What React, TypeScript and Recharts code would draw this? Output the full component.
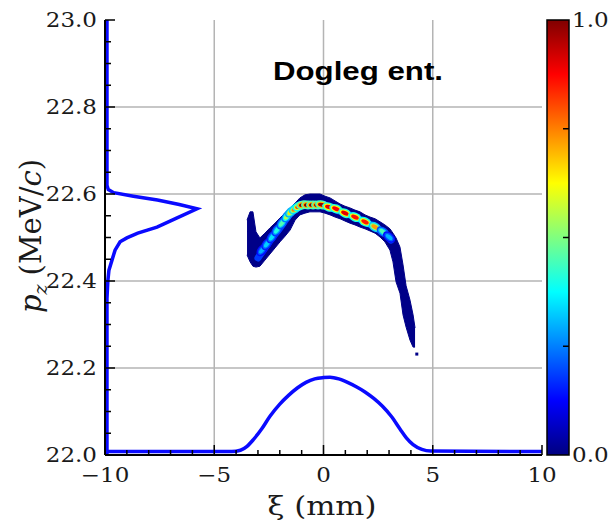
import React from "react";
import { ComposedChart, Area, Line, Scatter, XAxis, YAxis, CartesianGrid } from "recharts";

// axis ticks
const xMinorTicks = [-10, -9, -8, -7, -6, -5, -4, -3, -2, -1, 0, 1, 2, 3, 4, 5, 6, 7, 8, 9, 10];
const xMajorTicks = [-10, -5, 0, 5, 10];
const xTickLabels = ["\u221210", "\u22125", "0", "5", "10"];
const yMinorTicks = [
  22.0, 22.05, 22.1, 22.15, 22.2, 22.25, 22.3, 22.35, 22.4, 22.45, 22.5,
  22.55, 22.6, 22.65, 22.7, 22.75, 22.8, 22.85, 22.9, 22.95, 23.0,
];
const yMajorTicks = [22.0, 22.2, 22.4, 22.6, 22.8, 23.0];
const yTickLabels = ["22.0", "22.2", "22.4", "22.6", "22.8", "23.0"];
const colorbarTicks = [0.25, 0.5, 0.75];
const colorbarLabels = ["1.0", "0.0"];

// beam footprint (dark blue region), one column per xi
const beamXi = [
  -3.5, -3.36, -3.23, -3.09, -2.91, -2.68, -2.45, -2.22, -1.99, -1.76, -1.53, -1.3, -1.08,
  -0.85, -0.62, -0.39, -0.16, 0.07, 0.3, 0.53, 0.76, 0.98, 1.21, 1.44, 1.67, 1.9, 2.13,
  2.36, 2.59, 2.81, 3.04, 3.18, 3.32, 3.5, 3.64, 3.78, 3.96, 4.1, 4.19,
];
const beamHigh = [
  22.54, 22.559, 22.559, 22.513, 22.499, 22.51, 22.522, 22.533, 22.545, 22.556, 22.568, 22.579, 22.591,
  22.598, 22.6, 22.6, 22.6, 22.595, 22.591, 22.584, 22.577, 22.572, 22.568, 22.563, 22.559, 22.552, 22.547,
  22.543, 22.536, 22.529, 22.52, 22.51, 22.499, 22.478, 22.437, 22.389, 22.356, 22.322, 22.292,
];
const beamLow = [
  22.46, 22.444, 22.434, 22.432, 22.434, 22.448, 22.462, 22.476, 22.49, 22.503, 22.517, 22.54, 22.552,
  22.556, 22.559, 22.559, 22.559, 22.556, 22.552, 22.547, 22.543, 22.538, 22.533, 22.529, 22.524, 22.52, 22.515,
  22.51, 22.501, 22.49, 22.471, 22.444, 22.398, 22.372, 22.322, 22.294, 22.264, 22.248, 22.248,
];

// ridge of the phase space (brighter core)
const ridgeXi = [-3.0, -2.68, -2.36, -1.99, -1.62, -1.26, -0.94, -0.48, -0.02, 0.43, 0.98, 1.44, 1.9, 2.36, 2.81, 3.09];
const ridgePz = [22.453, 22.476, 22.499, 22.522, 22.549, 22.568, 22.575, 22.575, 22.574, 22.566, 22.556, 22.547, 22.536, 22.524, 22.51, 22.494];

// density hot spots along the ridge
const beadXi = [
  -2.81, -2.59, -2.36, -2.13, -1.9, -1.67, -1.49, -1.3, -1.12, -0.94, -0.71, -0.48, -0.25, -0.07,
  0.25, 0.57, 0.98, 1.44, 1.9, 2.36, 2.72, 3.0,
];
const beadPz = [
  22.471, 22.485, 22.501, 22.517, 22.533, 22.549, 22.559, 22.566, 22.572, 22.575, 22.575, 22.575, 22.575, 22.575,
  22.57, 22.566, 22.556, 22.547, 22.536, 22.524, 22.513, 22.501,
];
const beadLevel = [
  0.3, 0.33, 0.35, 0.4, 0.45, 0.55, 0.65, 0.75, 0.85, 1.0, 1.0, 1.0, 1.0, 0.97,
  0.9, 0.88, 0.9, 0.86, 0.85, 0.72, 0.45, 0.3,
];

const strayXi = [4.27];
const strayPz = [22.232];

// current profile along xi (bottom)
const xProfileXi = [
  -10, -4.2, -3.8, -3.5, -3.2, -2.8, -2.45, -2.0, -1.6, -1.2, -0.8, -0.4, 0.0, 0.3,
  0.7, 1.1, 1.5, 1.9, 2.3, 2.7, 3.1, 3.5, 3.8, 4.1, 4.5, 4.9, 10,
];
const xProfilePz = [
  22.008, 22.008, 22.011, 22.02, 22.036, 22.062, 22.089, 22.117, 22.137, 22.154, 22.167, 22.175, 22.178, 22.179,
  22.175, 22.167, 22.157, 22.145, 22.13, 22.112, 22.089, 22.06, 22.039, 22.024, 22.013, 22.009, 22.008,
];

// energy spectrum (left)
const yProfileXi = [
  -9.91, -9.91, -9.85, -9.6, -8.7, -7.6, -6.6, -5.79, -6.7, -7.62, -8.5, -9.0, -9.31, -9.54,
  -9.68, -9.82, -9.87, -9.91, -9.91,
];
const yProfilePz = [
  23.0, 22.62, 22.61, 22.603, 22.595, 22.586, 22.576, 22.566, 22.545, 22.524, 22.51, 22.499, 22.49, 22.471,
  22.448, 22.425, 22.4, 22.36, 22.0,
];

const beamRows = beamXi.map((xi, i) => ({ xi, band: [beamLow[i], beamHigh[i]] }));
const ridgeRows = ridgeXi.map((xi, i) => ({ xi, pz: ridgePz[i] }));
const beadRows = beadXi.map((xi, i) => ({ xi, pz: beadPz[i], level: beadLevel[i], idx: i }));
const strayRows = strayXi.map((xi, i) => ({ xi, pz: strayPz[i] }));
const xProfileRows = xProfileXi.map((xi, i) => ({ xi, pz: xProfilePz[i] }));
const yProfileRows = yProfileXi.map((xi, i) => ({ xi, pz: yProfilePz[i] }));

const jet = (v: number) => {
  const c = (t: number) => Math.round(255 * Math.max(0, Math.min(1, t)));
  return `rgb(${c(1.5 - Math.abs(4 * v - 3))},${c(1.5 - Math.abs(4 * v - 2))},${c(1.5 - Math.abs(4 * v - 1))})`;
};

const BLUE = "#0a0aff";
const NAVY = "#000088";
const SERIF = "'DejaVu Serif', serif";
const TEXT = "#1a1a1a";

const isMajor = (list: number[], v: number) => list.some((m) => Math.abs(m - v) < 1e-6);

const BottomTick = (props: any) => {
  const { x, y, payload } = props;
  const idx = xMajorTicks.findIndex((m) => Math.abs(m - payload.value) < 1e-6);
  const major = idx >= 0;
  return (
    <g>
      <line x1={x} x2={x} y1={y} y2={y - (major ? 10 : 5)} stroke="#000" strokeWidth={1.5} />
      {major && (
        <text transform={`translate(${x},${y + 27}) scale(1.15,1)`} textAnchor="middle" fontFamily={SERIF} fontSize={20} fill={TEXT}>
          {xTickLabels[idx]}
        </text>
      )}
    </g>
  );
};

const TopTick = (props: any) => {
  const { x, y, payload } = props;
  const major = isMajor(xMajorTicks, payload.value);
  return <line x1={x} x2={x} y1={y} y2={y + (major ? 10 : 5)} stroke="#000" strokeWidth={1.5} />;
};

const LeftTick = (props: any) => {
  const { x, y, payload } = props;
  const idx = yMajorTicks.findIndex((m) => Math.abs(m - payload.value) < 1e-6);
  const major = idx >= 0;
  return (
    <g>
      <line x1={x} x2={x + (major ? 10 : 6)} y1={y} y2={y} stroke="#000" strokeWidth={1.5} />
      {major && (
        <text transform={`translate(${x - 8},${y + 7}) scale(1.15,1)`} textAnchor="end" fontFamily={SERIF} fontSize={20} fill={TEXT}>
          {yTickLabels[idx]}
        </text>
      )}
    </g>
  );
};

const RightTick = (props: any) => {
  const { x, y, payload } = props;
  const major = isMajor(yMajorTicks, payload.value);
  return <line x1={x} x2={x - (major ? 10 : 6)} y1={y} y2={y} stroke="#000" strokeWidth={1.5} />;
};

// tilt each hot spot along the ridge (px per unit: 21.85 in xi, 435 in pz)
const beadAngle = (i: number) => {
  const a = beadRows[Math.max(0, i - 1)];
  const b = beadRows[Math.min(beadRows.length - 1, i + 1)];
  return (Math.atan2(-(b.pz - a.pz) * 435, (b.xi - a.xi) * 21.85) * 180) / Math.PI;
};

const Bead = (props: any) => {
  const { cx, cy, payload } = props;
  const v = payload.level;
  return (
    <g transform={`translate(${cx},${cy}) rotate(${beadAngle(payload.idx)})`}>
      <ellipse rx={7} ry={4.5} fill={jet(v * 0.45)} />
      <ellipse rx={5.5} ry={3.2} fill={jet(v * 0.7)} />
      <ellipse rx={4} ry={2} fill={jet(v)} />
    </g>
  );
};

const StrayDot = (props: any) => <rect x={props.cx - 1.5} y={props.cy - 1.5} width={3} height={3} fill={NAVY} />;

const Colorbar = () => {
  const x = 547;
  const top = 20;
  const h = 435;
  const w = 22;
  const stops = [1, 0.875, 0.625, 0.375, 0.125, 0];
  return (
    <svg width={610} height={522} style={{ position: "absolute", left: 0, top: 0, pointerEvents: "none" }}>
      <defs>
        <linearGradient id="jetbar" x1="0" y1="0" x2="0" y2="1">
          {stops.map((s) => (
            <stop key={s} offset={1 - s} stopColor={jet(s)} />
          ))}
        </linearGradient>
      </defs>
      <rect x={x} y={top} width={w} height={h} fill="url(#jetbar)" stroke="#000" strokeWidth={1.5} />
      {colorbarTicks.map((t) => (
        <line key={t} x1={x + w - 6} x2={x + w} y1={top + h * (1 - t)} y2={top + h * (1 - t)} stroke="#000" strokeWidth={1.5} />
      ))}
      <text transform={`translate(${x + w + 3},${top + 7}) scale(1.15,1)`} fontFamily={SERIF} fontSize={20} fill={TEXT}>
        {colorbarLabels[0]}
      </text>
      <text transform={`translate(${x + w + 3},${top + h + 7}) scale(1.15,1)`} fontFamily={SERIF} fontSize={20} fill={TEXT}>
        {colorbarLabels[1]}
      </text>
    </svg>
  );
};

export default function App() {
  return (
    <div style={{ position: "absolute", left: 0, top: 0, width: 610, height: 522, background: "#fff" }}>
      <ComposedChart width={610} height={522} data={beamRows} margin={{ top: 20, right: 68, bottom: 0, left: 0 }}>
        <CartesianGrid
          horizontalValues={[22.2, 22.4, 22.6, 22.8]}
          verticalValues={[-5, 0, 5]}
          stroke="#b4b4b4"
          strokeWidth={1.5}
        />
        <XAxis
          dataKey="xi"
          type="number"
          domain={[-10, 10]}
          ticks={xMinorTicks}
          allowDataOverflow
          height={67}
          tickSize={0}
          tickMargin={0}
          tick={<BottomTick />}
          interval={0}
          axisLine={{ stroke: "#000", strokeWidth: 2 }}
        />
        <XAxis
          xAxisId="top"
          orientation="top"
          type="number"
          domain={[-10, 10]}
          ticks={xMinorTicks}
          allowDataOverflow
          height={0}
          tickSize={0}
          tickMargin={0}
          tick={<TopTick />}
          interval={0}
          axisLine={{ stroke: "#000", strokeWidth: 2 }}
        />
        <YAxis
          dataKey="pz"
          type="number"
          domain={[22, 23]}
          ticks={yMinorTicks}
          allowDataOverflow
          width={105}
          tickSize={0}
          tickMargin={0}
          tick={<LeftTick />}
          interval={0}
          axisLine={{ stroke: "#000", strokeWidth: 2 }}
        />
        <YAxis
          yAxisId="right"
          orientation="right"
          type="number"
          domain={[22, 23]}
          ticks={yMinorTicks}
          allowDataOverflow
          width={0}
          tickSize={0}
          tickMargin={0}
          tick={<RightTick />}
          interval={0}
          axisLine={{ stroke: "#000", strokeWidth: 2 }}
        />
        <Area dataKey="band" type="linear" fill={NAVY} fillOpacity={1} stroke={NAVY} strokeWidth={1} isAnimationActive={false} />
        <Line data={xProfileRows} dataKey="pz" type="monotone" stroke={BLUE} strokeWidth={3.5} dot={false} isAnimationActive={false} />
        <Line data={yProfileRows} dataKey="pz" type="linear" stroke={BLUE} strokeWidth={3.5} dot={false} isAnimationActive={false} />
        <Line data={ridgeRows} dataKey="pz" type="linear" stroke={jet(0.18)} strokeWidth={7} strokeLinecap="round" dot={false} isAnimationActive={false} />
        <Scatter data={beadRows} dataKey="pz" shape={Bead} isAnimationActive={false} />
        <Scatter data={strayRows} dataKey="pz" shape={StrayDot} isAnimationActive={false} />
        <text x={273} y={80} fontFamily="'Liberation Sans', Arial, sans-serif" fontWeight="bold" fontSize={26} textLength={170} lengthAdjust="spacingAndGlyphs" fill="#000">
          Dogleg ent.
        </text>
        <text x={322} y={515} textAnchor="middle" fontFamily={SERIF} fontSize={26} textLength={109} lengthAdjust="spacingAndGlyphs" fill={TEXT}>
          {"\u03be (mm)"}
        </text>
        <text transform="translate(41,236) rotate(-90)" textAnchor="middle" fontFamily={SERIF} fontSize={29} fill={TEXT}>
          <tspan fontStyle="italic">p</tspan>
          <tspan fontStyle="italic" fontSize={19} dy={6}>z</tspan>
          <tspan dy={-6} dx={9}>(MeV/</tspan>
          <tspan fontStyle="italic">c</tspan>
          <tspan>)</tspan>
        </text>
      </ComposedChart>
      <Colorbar />
    </div>
  );
}
